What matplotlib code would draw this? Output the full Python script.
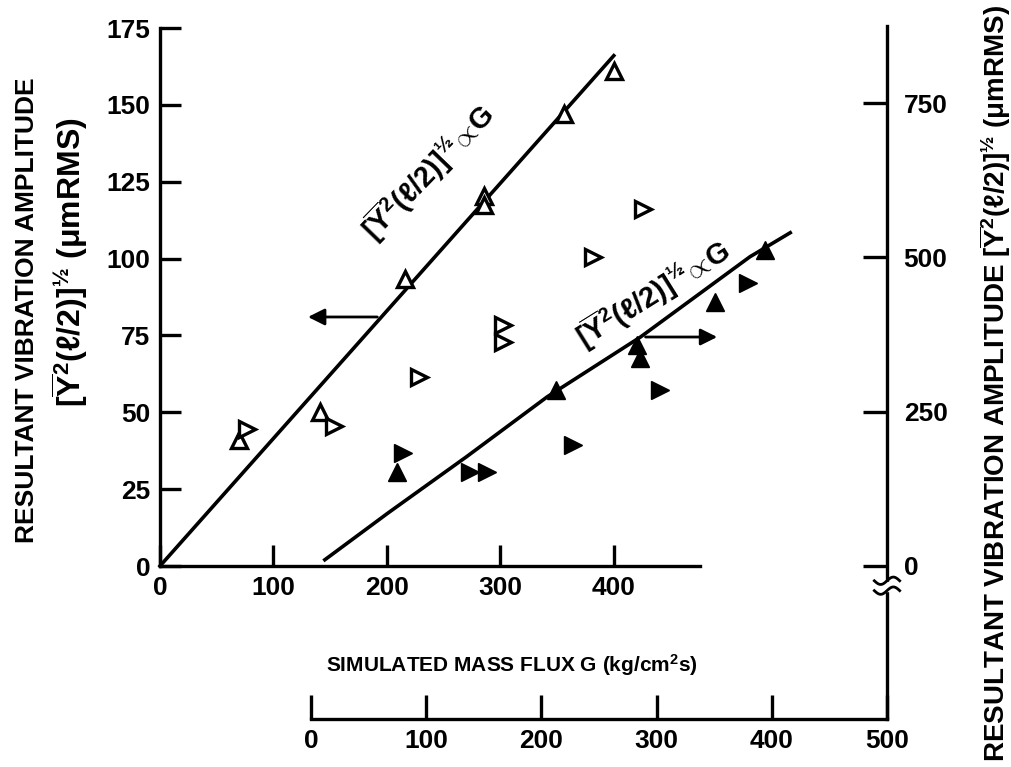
import numpy as np
import matplotlib
matplotlib.use("Agg")
import matplotlib.pyplot as plt

plt.rcParams['font.family'] = ['Liberation Sans', 'DejaVu Sans']
plt.rcParams['font.weight'] = 'bold'
plt.rcParams['mathtext.fontset'] = 'custom'
plt.rcParams['mathtext.rm'] = 'Liberation Sans:bold'
plt.rcParams['mathtext.it'] = 'Liberation Sans:bold'
plt.rcParams['mathtext.bf'] = 'Liberation Sans:bold'

# ---- data (left / upper scale: G vs amplitude, open symbols) ----
open_up_G = [400, 356, 286, 286, 216, 70, 141]
open_up_Y = [161, 147, 120.5, 117.5, 93.5, 41, 50]
open_right_G = [77, 153, 228, 302, 302, 382, 426]
open_right_Y = [44.5, 45.5, 61.5, 78.4, 72.9, 100.5, 116]
fit1_G = [0, 400]
fit1_Y = [0, 166]

# ---- data (right / lower scale, filled symbols) ----
filled_up_G = [75, 213, 283, 286, 351, 394]
filled_up_Y = [152, 285, 358, 337, 428, 512]
filled_right_G = [80, 138, 153, 227, 303, 379]
filled_right_Y = [183, 152, 152, 196, 285, 459]
fit2_G = [12, 67, 135, 205, 286, 381, 416]
fit2_Y = [10, 86, 177, 274, 371, 501, 540]

left_ticks = [0, 25, 50, 75, 100, 125, 150, 175]
top_xticks = [0, 100, 200, 300, 400]
right_ticks = [0, 250, 500, 750]
bottom_xticks = [0, 100, 200, 300, 400, 500]

formula = r'$[\overline{\mathrm{Y}}^{2}(\ell/2)]^{½}\!\propto\!\mathrm{G}$'
amp = r'$[\overline{\mathrm{Y}}^{2}(\ell/2)]^{½}$ ($\mu$mRMS)'

W, H = 1012, 767
fig = plt.figure(figsize=(W / 100, H / 100), dpi=100)

def box(l, r, b, t):
    return [l / W, 1 - b / H, (r - l) / W, (b - t) / H]

lw = 2.4
ax1 = fig.add_axes(box(160, 700, 566, 28))
ax2 = fig.add_axes(box(311, 887, 719, 26))
ax2.patch.set_alpha(0)

# main (left) axes
ax1.set_xlim(0, 476)
ax1.set_ylim(0, 175)
for s in ['top', 'right']:
    ax1.spines[s].set_visible(False)
for s in ['left', 'bottom']:
    ax1.spines[s].set_linewidth(lw)
ax1.set_xticks(top_xticks)
ax1.set_yticks(left_ticks)
ax1.tick_params(direction='in', length=15, width=lw, labelsize=19, pad=7)
ax1.plot(fit1_G, fit1_Y, color='black', lw=2.6, clip_on=False)
ax1.plot(open_up_G, open_up_Y, '^', ms=11, mfc='white', mec='black', mew=2.4, clip_on=False)
ax1.plot(open_right_G, open_right_Y, '>', ms=11, mfc='white', mec='black', mew=2.4, clip_on=False)
ax1.annotate('', xy=(128, 81), xytext=(194, 81),
             arrowprops=dict(arrowstyle='-|>', color='black', lw=2, mutation_scale=25))
ax1.text(236, 128, formula, rotation=46, ha='center', va='center', fontsize=21)

# secondary (right / lower) axes
ax2.set_xlim(0, 500)
ax2.set_ylim(-248, 875)
for s in ['top', 'left']:
    ax2.spines[s].set_visible(False)
for s in ['right', 'bottom']:
    ax2.spines[s].set_linewidth(lw)
ax2.yaxis.tick_right()
ax2.set_xticks(bottom_xticks)
ax2.set_yticks(right_ticks)
ax2.tick_params(direction='in', length=17, width=lw, labelsize=19, pad=7)
ax2.tick_params(axis='y', pad=12)
ax2.plot(fit2_G, fit2_Y, color='black', lw=2.6)
ax2.plot(filled_up_G, filled_up_Y, '^', ms=13, color='black')
ax2.plot(filled_right_G, filled_right_Y, '>', ms=13, color='black')
ax2.annotate('', xy=(355, 371), xytext=(288, 371),
             arrowprops=dict(arrowstyle='-|>', color='black', lw=2, mutation_scale=25))
ax2.text(297, 440, formula, rotation=32, ha='center', va='center', fontsize=21)

# axis break on right spine
ax2.fill_between([496, 504], -40, -26, color='white', zorder=5, clip_on=False)
t = np.linspace(-1, 1, 30)
for y0 in [-24, -40]:
    ax2.plot(500 + 11 * t, y0 + 6 * np.sin(np.pi * t), color='black', lw=2,
             zorder=6, clip_on=False)

fig.text(512 / W, 1 - 665 / H, r'SIMULATED MASS FLUX G (kg/cm$^{2}$s)',
         ha='center', va='center', fontsize=15)
fig.text(27 / W, 1 - 310 / H, 'RESULTANT VIBRATION AMPLITUDE', rotation=90,
         ha='center', va='center', fontsize=19)
fig.text(70 / W, 1 - 262 / H, amp, rotation=90, ha='center', va='center', fontsize=23)
fig.text(995 / W, 1 - 383 / H, 'RESULTANT VIBRATION AMPLITUDE ' + amp, rotation=90,
         ha='center', va='center', fontsize=20)

fig.savefig('out.png', dpi=100)
